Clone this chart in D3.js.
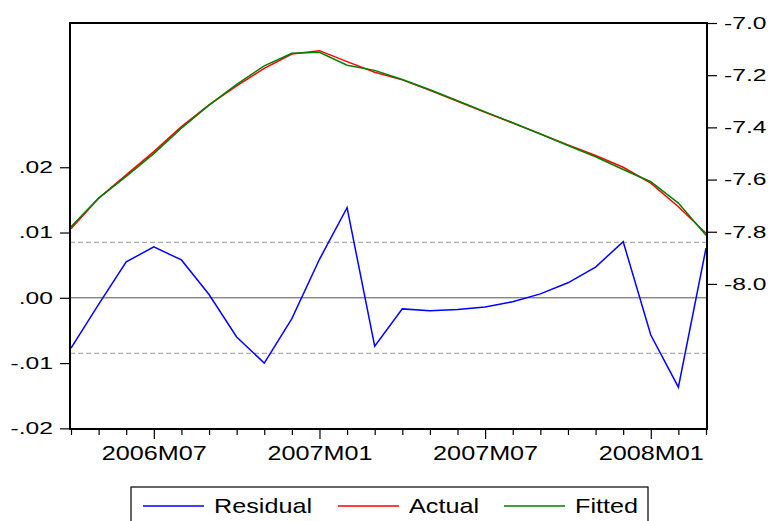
<!DOCTYPE html>
<html>
<head>
<meta charset="utf-8">
<script src="https://cdn.jsdelivr.net/npm/d3@7"></script>
<style>
  html, body { margin: 0; padding: 0; background: #fff; }
  svg { display: block; }
  text { font-family: "Liberation Sans", Arial, sans-serif; }
</style>
</head>
<body>
<svg id="chart" width="769" height="521"></svg>
<script>
// ---- Data ----
const months = ["2006M04","2006M05","2006M06","2006M07","2006M08","2006M09","2006M10","2006M11","2006M12",
                "2007M01","2007M02","2007M03","2007M04","2007M05","2007M06","2007M07","2007M08","2007M09",
                "2007M10","2007M11","2007M12","2008M01","2008M02","2008M03"];
const residual = [-0.0077,-0.0010,0.0055,0.0078,0.0058,0.0005,-0.0060,-0.0100,-0.0032,
                  0.0059,0.0138,-0.0074,-0.0017,-0.0020,-0.0018,-0.0014,-0.0006,0.0006,
                  0.0023,0.0047,0.0086,-0.0057,-0.0137,0.0076];
const actual = [-7.789,-7.672,-7.582,-7.493,-7.397,-7.314,-7.241,-7.174,-7.119,
                -7.106,-7.148,-7.189,-7.218,-7.258,-7.300,-7.342,-7.383,-7.425,
                -7.467,-7.508,-7.553,-7.614,-7.704,-7.806];
const fitted = [-7.7813,-7.6710,-7.5875,-7.5008,-7.4028,-7.3145,-7.2350,-7.1640,-7.1158,
                -7.1119,-7.1618,-7.1816,-7.2163,-7.2560,-7.2982,-7.3406,-7.3824,-7.4256,
                -7.4693,-7.5127,-7.5616,-7.6083,-7.6903,-7.8136];
const leftTicks = [-0.02,-0.01,0.00,0.01,0.02];
const leftTickLabels = ["-.02","-.01",".00",".01",".02"];
const rightTicks = [-7.0,-7.2,-7.4,-7.6,-7.8,-8.0];
const rightTickLabels = ["-7.0","-7.2","-7.4","-7.6","-7.8","-8.0"];
const majorMonths = ["2006M07","2007M01","2007M07","2008M01"];
const seBand = 0.0085;
const seriesNames = ["Residual","Actual","Fitted"];
const seriesColors = ["#0000ff","#ff0000","#008000"];

// ---- Layout ----
const svg = d3.select("#chart");
const L = 70, R = 707, T = 23, B = 429;
const SX = 1.45;  // horizontal text stretch of the axis numbers
const SX2 = 1.26; // horizontal text stretch of the dates and legend

const x = d3.scalePoint().domain(months).range([71, 706]);
const yL = d3.scaleLinear().domain([-0.0201, 0.0421]).range([B, T]);
const yR = d3.scaleLinear().domain([-8.556, -7.0]).range([B, T]);

// reference lines
svg.append("line").attr("x1", L).attr("x2", R).attr("y1", yL(0)).attr("y2", yL(0))
  .attr("stroke", "#555").attr("stroke-width", 1);
[seBand, -seBand].forEach(v => {
  svg.append("line").attr("x1", L).attr("x2", R).attr("y1", yL(v)).attr("y2", yL(v))
    .attr("stroke", "#999").attr("stroke-width", 1).attr("stroke-dasharray", "5,3");
});

// series
const lineRes = d3.line().x((d, i) => x(months[i])).y(d => yL(d));
const lineLev = d3.line().x((d, i) => x(months[i])).y(d => yR(d));
svg.append("path").datum(residual).attr("d", lineRes).attr("fill", "none")
  .attr("stroke", seriesColors[0]).attr("stroke-width", 1.5);
svg.append("path").datum(actual).attr("d", lineLev).attr("fill", "none")
  .attr("stroke", seriesColors[1]).attr("stroke-width", 1.5);
svg.append("path").datum(fitted).attr("d", lineLev).attr("fill", "none")
  .attr("stroke", seriesColors[2]).attr("stroke-width", 1.5);

// frame
svg.append("rect").attr("x", L).attr("y", T).attr("width", R - L).attr("height", B - T)
  .attr("fill", "none").attr("stroke", "#000").attr("stroke-width", 2);

// left axis
const gL = svg.append("g").attr("transform", `translate(${L},0)`)
  .call(d3.axisLeft(yL).tickValues(leftTicks).tickSize(10).tickPadding(0)
        .tickFormat((d, i) => leftTickLabels[i]));
gL.select(".domain").remove();
gL.selectAll(".tick line").attr("stroke", "#000").attr("stroke-width", 1.2);
gL.selectAll(".tick text").attr("x", null).attr("fill", "#000")
  .attr("font-size", 17).attr("font-family", "Liberation Sans, Arial, sans-serif")
  .attr("transform", `translate(-17,0) scale(${SX},1)`);

// right axis
const gR = svg.append("g").attr("transform", `translate(${R},0)`)
  .call(d3.axisRight(yR).tickValues(rightTicks).tickSize(10).tickPadding(0)
        .tickFormat((d, i) => rightTickLabels[i]));
gR.select(".domain").remove();
gR.selectAll(".tick line").attr("stroke", "#000").attr("stroke-width", 1.2);
gR.selectAll(".tick text").attr("x", null).attr("fill", "#000")
  .attr("font-size", 17).attr("font-family", "Liberation Sans, Arial, sans-serif")
  .attr("transform", `translate(17,0) scale(${SX},1)`);

// bottom axis
const gB = svg.append("g").attr("transform", `translate(0,${B})`)
  .call(d3.axisBottom(x).tickSize(6).tickPadding(0)
        .tickFormat(d => majorMonths.includes(d) ? d : ""));
gB.select(".domain").remove();
gB.selectAll(".tick line").attr("stroke", "#000").attr("stroke-width", 1.2)
  .attr("y2", d => majorMonths.includes(d) ? 10 : 6);
gB.selectAll(".tick text").attr("y", null).attr("dy", null).attr("fill", "#000")
  .attr("font-size", 20).attr("font-family", "Liberation Sans, Arial, sans-serif")
  .attr("transform", `translate(0,31) scale(${SX2},1)`);

// legend
const lg = svg.append("g");
lg.append("rect").attr("x", 131).attr("y", 487).attr("width", 517).attr("height", 40)
  .attr("fill", "#fff").attr("stroke", "#000").attr("stroke-width", 1.2);
const legX = [143, 338, 504];
seriesNames.forEach((name, i) => {
  lg.append("line").attr("x1", legX[i]).attr("x2", legX[i] + 61).attr("y1", 506).attr("y2", 506)
    .attr("stroke", seriesColors[i]).attr("stroke-width", 1.5);
  lg.append("text").attr("fill", "#000").attr("font-size", 20)
    .attr("transform", `translate(${legX[i] + 71},513) scale(${SX2},1)`)
    .text(name);
});
</script>
</body>
</html>
